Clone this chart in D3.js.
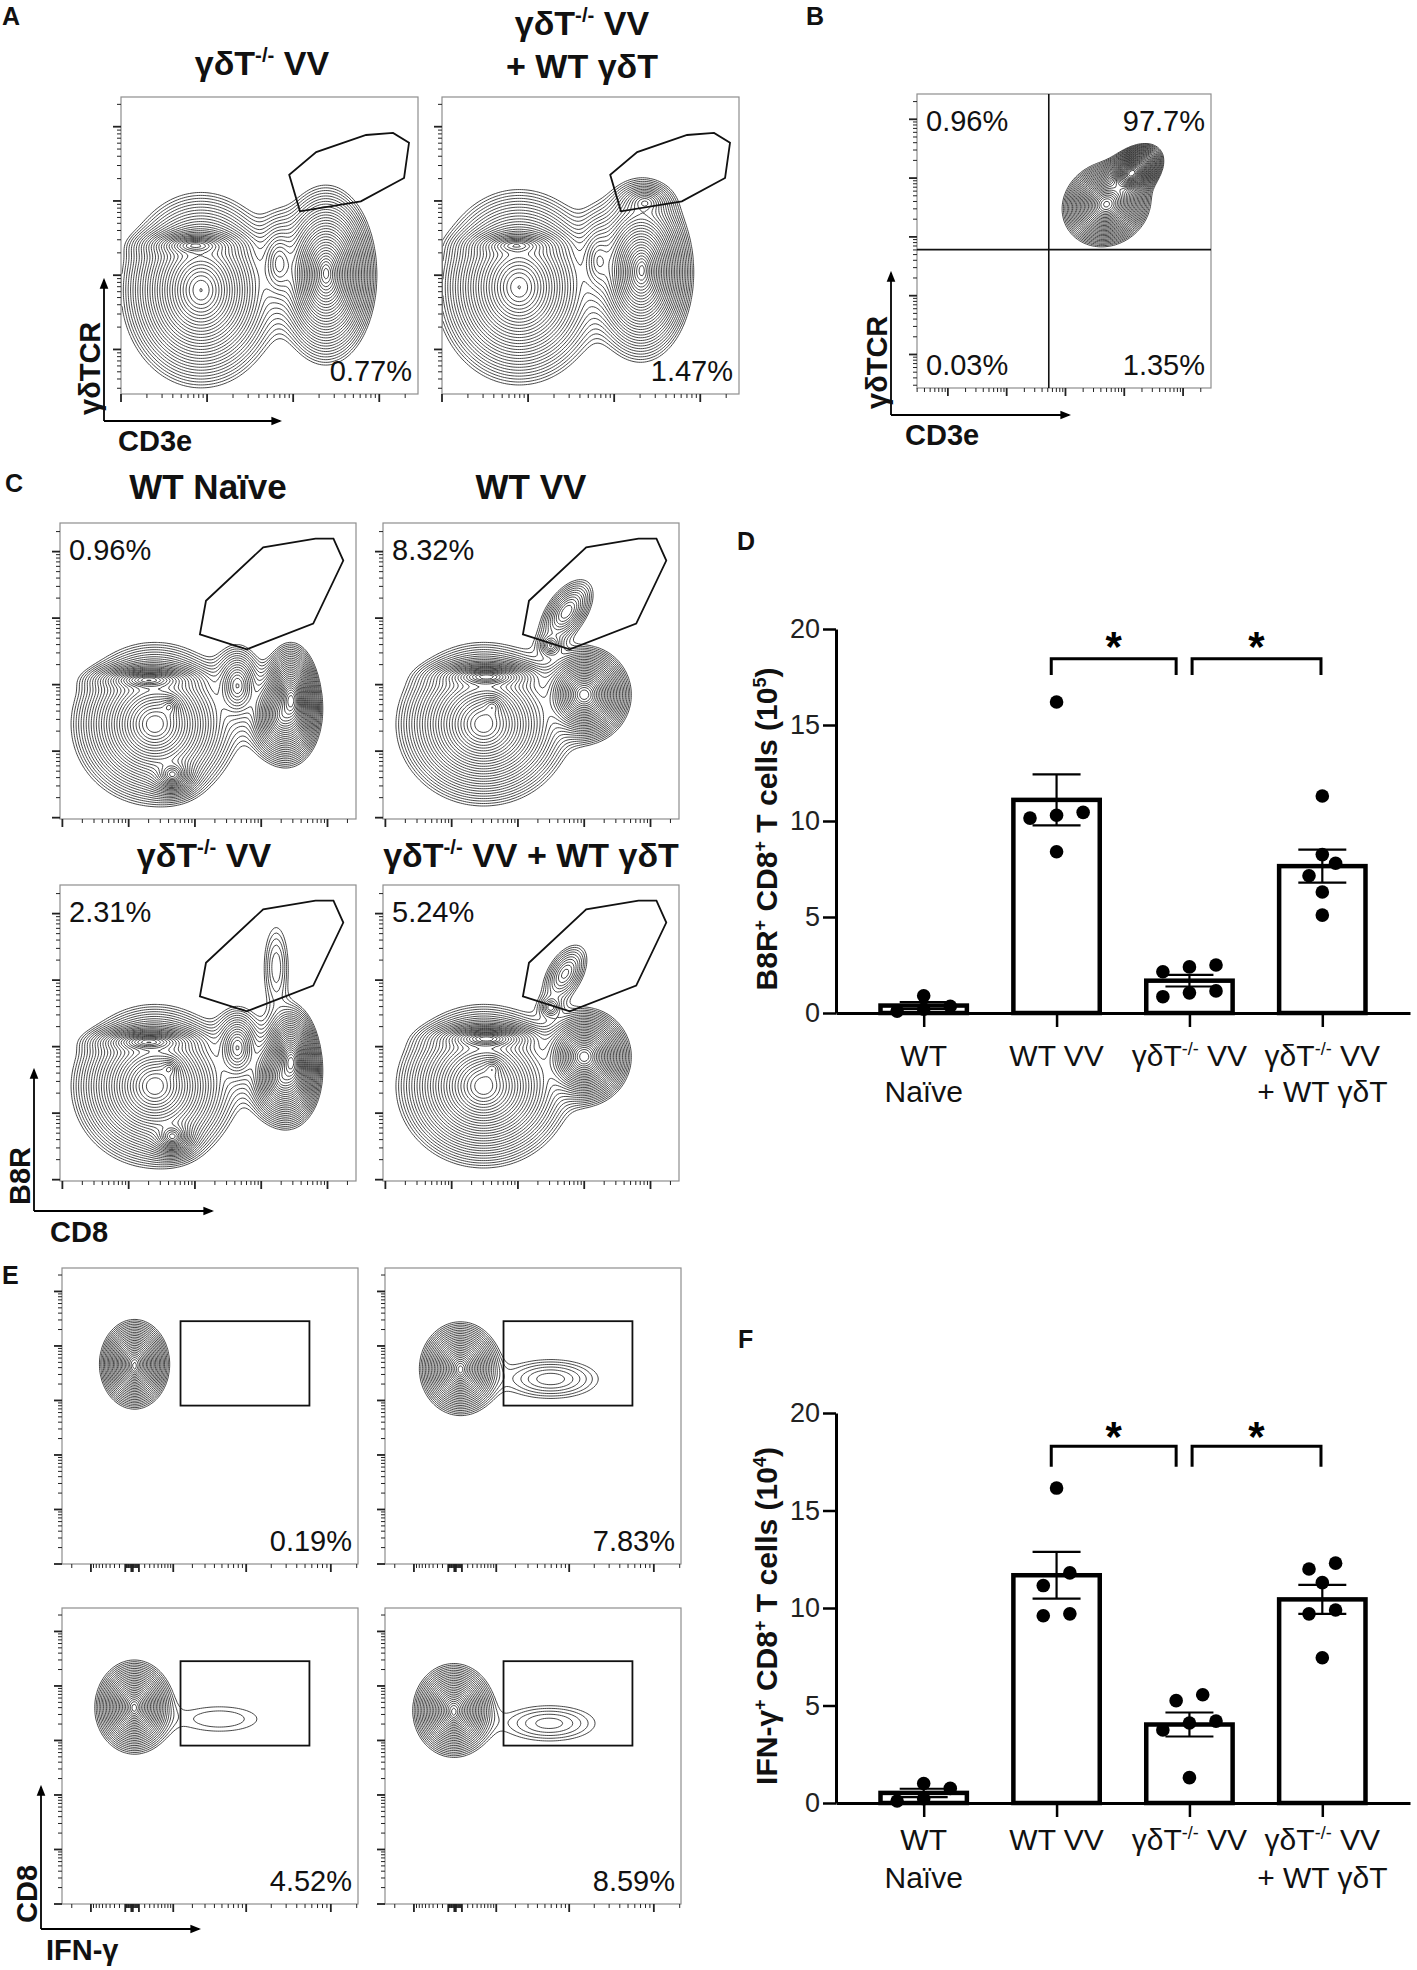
<!DOCTYPE html>
<html>
<head>
<meta charset="utf-8">
<script src="https://cdn.jsdelivr.net/npm/d3@7"></script>
<style>
  body { margin: 0; background: #fff; }
  svg { display: block; font-family: "Liberation Sans", Arial, Helvetica, sans-serif; }
</style>
</head>
<body>
<svg id="fig" width="1417" height="1970"></svg>
<script>
// ---------- data ----------
// bar chart groups (^...^ marks superscript)
const groupLabels = [["WT", "Naïve"], ["WT VV"], ["γδT^-/-^ VV"], ["γδT^-/-^ VV", "+ WT γδT"]]
const barTicks = [0, 5, 10, 15, 20]

// B8R+ CD8+ T cells (10^5), one array per mouse group
const b8rCounts = [
  [0.1, 0.9, 0.35, 0.2],
  [16.2, 10.15, 10.3, 10.45, 8.4],
  [2.5, 2.15, 2.4, 0.85, 1.15, 1.05],
  [11.3, 8.25, 7.8, 7.15, 6.3, 5.1]
]
// IFN-g+ CD8+ T cells (10^4)
const ifngCounts = [
  [0.1, 0.75, 1.0, 0.22],
  [16.15, 11.15, 11.8, 9.6, 9.7],
  [5.55, 5.25, 4.2, 4.1, 3.75, 1.3],
  [12.0, 12.3, 11.3, 9.9, 9.7, 7.45]
]
const sigPairs = [[1, 2], [2, 3]]

// flow populations, in display channels (0-1024): [x, y, spreadX, spreadY, peak, angle]
const popsA1 = [[276, 358, 41, 50, 1.0, 0], [256, 512, 35, 11, 0.4, 0], [707, 410, 26, 46, 1.0, 0], [707, 420, 10, 22, 0.4, 0],
  [545, 450, 22, 45, 0.05, 0]]
const popsA2 = [[266, 368, 43, 50, 1.0, 0], [256, 512, 35, 11, 0.35, 0], [686, 420, 27, 46, 1.0, 0], [690, 430, 10, 22, 0.4, 0],
  [540, 460, 22, 45, 0.05, 0], [700, 660, 25, 18, 0.04, 0]]
const popsB = [[748, 748, 19, 12, 1.0, 40], [660, 640, 27, 24, 0.45, 35]]
const popsC1 = [[328, 328, 43, 42, 1.0, 0], [307, 481, 36, 10, 0.4, 0], [379, 389, 12, 12, 0.4, 0], [389, 154, 18, 15, 0.25, 0],
  [799, 410, 15, 30, 0.9, 0], [768, 358, 23, 31, 0.3, 0], [614, 461, 22, 36, 0.06, 0]]
const popsC2 = [[348, 328, 45, 42, 1.0, 0], [379, 389, 13, 13, 0.4, 0], [358, 492, 36, 10, 0.4, 0], [696, 430, 25, 26, 0.8, 0],
  [635, 717, 39, 21, 0.033, 55], [580, 600, 14, 14, 0.02, 0]]
const popsC3 = [[328, 328, 43, 42, 1.0, 0], [307, 481, 36, 10, 0.4, 0], [379, 389, 12, 12, 0.4, 0], [389, 154, 18, 15, 0.25, 0],
  [799, 410, 15, 30, 0.9, 0], [768, 358, 23, 31, 0.3, 0], [614, 461, 22, 36, 0.06, 0], [748, 740, 24, 80, 0.008, 0]]
const popsC4 = [[348, 328, 45, 42, 1.0, 0], [379, 389, 13, 13, 0.4, 0], [358, 492, 36, 10, 0.4, 0], [696, 430, 25, 26, 0.8, 0],
  [630, 717, 40, 22, 0.02, 60], [580, 600, 14, 14, 0.015, 0]]
const popsE1 = [[251, 691, 18, 23, 1.0, 0], [251, 680, 6, 14, 0.5, 0]]
const popsE2 = [[261, 676, 21, 24, 1.0, 0], [261, 670, 7, 14, 0.5, 0], [573, 640, 76, 31, 0.012, 0]]
const popsE3 = [[250, 682, 20, 24, 1.0, 0], [250, 675, 7, 14, 0.5, 0], [545, 640, 120, 39, 0.0048, 0]]
const popsE4 = [[238, 670, 21, 24, 1.0, 0], [238, 660, 7, 14, 0.5, 0], [568, 625, 86, 33, 0.009, 0]]

// gates, in channels
const gateA = [[617, 630], [580, 756], [673, 834], [845, 893], [938, 900], [993, 866], [976, 745], [827, 664]]
const gateC = [[484, 639], [505, 755], [703, 940], [884, 970], [946, 970], [980, 894], [876, 676], [646, 587]]
const gateE = [[410, 548], [856, 840]]
const quadB = [459, 482]

const pctA = ["0.77%", "1.47%"]
const pctB = ["0.96%", "97.7%", "0.03%", "1.35%"]
const pctC = ["0.96%", "8.32%", "2.31%", "5.24%"]
const pctE = ["0.19%", "7.83%", "4.52%", "8.59%"]

// ---------- helpers ----------
const svg = d3.select("#fig")
const defs = svg.append("defs")
defs.append("marker").attr("id", "arrow")
  .attr("viewBox", "0 0 10 10").attr("refX", 8).attr("refY", 5)
  .attr("markerWidth", 6).attr("markerHeight", 6).attr("orient", "auto")
  .append("path").attr("d", "M0,1L10,5L0,9Z").attr("fill", "#000")

const rich = (text, str, fs) => {
  let raised = false
  str.split("^").forEach((p, i) => {
    if (p === "") return
    const t = text.append("tspan").text(p)
    if (i % 2 === 1) { t.attr("font-size", fs * 0.6).attr("dy", -fs * 0.38); raised = true }
    else if (raised) { t.attr("dy", fs * 0.38); raised = false }
  })
  return text
}

const label = (x, y, str, fs, opts = {}) => {
  const t = svg.append("text").attr("x", x).attr("y", y)
    .attr("font-size", fs).attr("font-weight", opts.bold ? "bold" : "normal")
    .attr("text-anchor", opts.anchor || "start").attr("fill", "#111")
  if (opts.rotate) t.attr("x", 0).attr("y", 0).attr("transform", `translate(${x},${y}) rotate(-90)`)
  return rich(t, str, fs)
}

const logTicks = (scale) => {
  const [a, b] = scale.domain()
  const out = []
  for (let k = Math.floor(Math.log10(a)); k <= Math.ceil(Math.log10(b)); k++) {
    for (let m = 1; m < 10; m++) {
      const v = m * Math.pow(10, k)
      if (v >= a && v <= b) out.push({ v, major: m === 1 })
    }
  }
  return out
}
const symlogTicks = (scale) => {
  const [a, b] = scale.domain()
  const out = [{ v: 0, major: true }]
  for (let k = 1; k <= 6; k++) {
    for (let m = 1; m < 10; m++) {
      const v = m * Math.pow(10, k)
      if (v <= b) out.push({ v, major: m === 1 })
      if (-v >= a) out.push({ v: -v, major: m === 1 })
    }
  }
  return out
}

// smooth peak, exponential tails
const density = (pops, N) => {
  const vals = new Float64Array(N * N)
  const rot = pops.map(p => { const a = p[5] * Math.PI / 180; return [Math.cos(a), Math.sin(a)] })
  for (let j = 0; j < N; j++) {
    const cy = (1 - (j + 0.5) / N) * 1024
    for (let i = 0; i < N; i++) {
      const cx = (i + 0.5) / N * 1024
      let v = 0
      pops.forEach((p, k) => {
        const dx = cx - p[0], dy = cy - p[1]
        const u = (dx * rot[k][0] + dy * rot[k][1]) / p[2]
        const t = (-dx * rot[k][1] + dy * rot[k][0]) / p[3]
        v += p[4] * Math.exp(1 - Math.sqrt(1 + u * u + t * t))
      })
      vals[j * N + i] = v
    }
  }
  return vals
}

let clipId = 0
const flowPlot = (o) => {
  const s = o.s, N = 140
  const cx = d3.scaleLinear().domain([0, 1024]).range([0, s])
  const cy = d3.scaleLinear().domain([0, 1024]).range([s, 0])
  const g = svg.append("g").attr("transform", `translate(${o.x},${o.y})`)
  const id = "clip" + (clipId++)
  defs.append("clipPath").attr("id", id).append("rect").attr("width", s).attr("height", s)

  const vals = density(o.pops, N)
  const mx = d3.max(vals)
  const t0 = 0.003, dl = o.step || 0.2
  const th = []
  for (let t = t0; t < mx * 0.97; t *= Math.exp(dl)) th.push(t)
  const contours = d3.contours().size([N, N]).thresholds(th)(vals)
  const path = d3.geoPath(d3.geoTransform({
    point(x, y) { this.stream.point(x * s / N, y * s / N) }
  }))
  g.append("g").attr("clip-path", `url(#${id})`)
    .selectAll("path").data(contours).join("path")
      .attr("d", path)
      .attr("fill", "none")
      .attr("stroke", "#262626")
      .attr("stroke-width", 0.85)

  // frame
  g.append("rect").attr("width", s).attr("height", s)
    .attr("fill", "none").attr("stroke", "#8e8e8e").attr("stroke-width", 1.2)

  // ticks
  const sx = o.axX.copy().range([0, s])
  const sy = o.axY.copy().range([s, 0])
  const xt = (o.symX ? symlogTicks(sx) : logTicks(sx))
  g.append("g").selectAll("line").data(xt).join("line")
    .attr("x1", d => sx(d.v)).attr("x2", d => sx(d.v))
    .attr("y1", s).attr("y2", d => s + (d.major ? 8 : 4))
    .attr("stroke", "#222").attr("stroke-width", d => d.major ? 1.8 : 1)
  g.append("g").selectAll("line").data(logTicks(sy)).join("line")
    .attr("y1", d => sy(d.v)).attr("y2", d => sy(d.v))
    .attr("x1", 0).attr("x2", d => (d.major ? -8 : -4))
    .attr("stroke", "#222").attr("stroke-width", d => d.major ? 1.8 : 1)

  // gates
  if (o.poly) {
    g.append("path").attr("d", d3.line()(o.poly.map(p => [cx(p[0]), cy(p[1])])) + "Z")
      .attr("fill", "none").attr("stroke", "#111").attr("stroke-width", 1.8)
  }
  if (o.rect) {
    const [a, b] = o.rect
    g.append("rect").attr("x", cx(a[0])).attr("y", cy(b[1]))
      .attr("width", cx(b[0]) - cx(a[0])).attr("height", cy(a[1]) - cy(b[1]))
      .attr("fill", "none").attr("stroke", "#111").attr("stroke-width", 1.8)
  }
  if (o.quad) {
    g.append("line").attr("x1", cx(o.quad[0])).attr("x2", cx(o.quad[0])).attr("y1", 0).attr("y2", s)
      .attr("stroke", "#111").attr("stroke-width", 1.6)
    g.append("line").attr("y1", cy(o.quad[1])).attr("y2", cy(o.quad[1])).attr("x1", 0).attr("x2", s)
      .attr("stroke", "#111").attr("stroke-width", 1.6)
  }

  // percentages
  o.pct.forEach(p => {
    const right = p.pos[1] === "r", bottom = p.pos[0] === "b"
    g.append("text")
      .attr("x", right ? s - 6 : 9)
      .attr("y", bottom ? s - 13 : 37)
      .attr("text-anchor", right ? "end" : "start")
      .attr("font-size", 29).attr("fill", "#111")
      .text(p.t)
  })
}

const arrows = (ox, oy, up, right, yLab, xLab, xLabDx, xLabDy) => {
  svg.append("line").attr("x1", ox).attr("y1", oy).attr("x2", ox).attr("y2", up)
    .attr("stroke", "#000").attr("stroke-width", 1.8).attr("marker-end", "url(#arrow)")
  svg.append("line").attr("x1", ox).attr("y1", oy).attr("x2", right).attr("y2", oy)
    .attr("stroke", "#000").attr("stroke-width", 1.8).attr("marker-end", "url(#arrow)")
  label(ox - 4, oy - 6, yLab, 29, { bold: true, rotate: true })
  label(ox + xLabDx, oy + xLabDy, xLab, 29, { bold: true })
}

// ---------- flow panels ----------
const axA = { x: d3.scaleLog().domain([10, Math.pow(10, 4.45)]), y: d3.scaleLog().domain([Math.pow(10, 0.4), Math.pow(10, 4.4)]) }
const axB = { x: d3.scaleLog().domain([Math.pow(10, 0.475), Math.pow(10, 5.475)]), y: d3.scaleLog().domain([Math.pow(10, 0.43), Math.pow(10, 5.43)]) }
const axC = { x: d3.scaleLog().domain([Math.pow(10, 0.964), Math.pow(10, 5.43)]), y: d3.scaleLog().domain([Math.pow(10, 0.98), Math.pow(10, 5.43)]) }
const axE = { x: d3.scaleSymlog().constant(500).domain([-2745, 207000]), y: d3.scaleLog().domain([1, Math.pow(10, 5.43)]) }

// A
flowPlot({ x: 121, y: 97, s: 297, pops: popsA1, axX: axA.x, axY: axA.y, poly: gateA, pct: [{ t: pctA[0], pos: "br" }] })
flowPlot({ x: 442, y: 97, s: 297, pops: popsA2, axX: axA.x, axY: axA.y, poly: gateA, pct: [{ t: pctA[1], pos: "br" }] })
label(262, 75, "γδT^-/-^ VV", 34, { bold: true, anchor: "middle" })
label(582, 35, "γδT^-/-^ VV", 34, { bold: true, anchor: "middle" })
label(582, 78, "+ WT γδT", 34, { bold: true, anchor: "middle" })
arrows(104, 421, 280, 280, "γδTCR", "CD3e", 14, 30)

// B
flowPlot({ x: 917, y: 94, s: 294, pops: popsB, axX: axB.x, axY: axB.y, quad: quadB, step: 0.17,
  pct: [{ t: pctB[0], pos: "tl" }, { t: pctB[1], pos: "tr" }, { t: pctB[2], pos: "bl" }, { t: pctB[3], pos: "br" }] })
arrows(891, 415, 273, 1069, "γδTCR", "CD3e", 14, 30)

// C
const cPlots = [[60, 523, popsC1], [383, 523, popsC2], [60, 885, popsC3], [383, 885, popsC4]]
cPlots.forEach((c, i) => flowPlot({ x: c[0], y: c[1], s: 296, pops: c[2], axX: axC.x, axY: axC.y, poly: gateC,
  pct: [{ t: pctC[i], pos: "tl" }] }))
label(208, 499, "WT Naïve", 35, { bold: true, anchor: "middle" })
label(531, 499, "WT VV", 35, { bold: true, anchor: "middle" })
label(204, 867, "γδT^-/-^ VV", 34, { bold: true, anchor: "middle" })
label(531, 867, "γδT^-/-^ VV + WT γδT", 34, { bold: true, anchor: "middle" })
arrows(34, 1211, 1070, 212, "B8R", "CD8", 16, 31)

// E
const ePlots = [[62, 1268, popsE1], [385, 1268, popsE2], [62, 1608, popsE3], [385, 1608, popsE4]]
ePlots.forEach((e, i) => flowPlot({ x: e[0], y: e[1], s: 296, pops: e[2], axX: axE.x, axY: axE.y, symX: true, rect: gateE, step: 0.24,
  pct: [{ t: pctE[i], pos: "br" }] }))
arrows(41, 1929, 1787, 199, "CD8", "IFN-γ", 5, 31)

// ---------- bar panels ----------
const swarm = (vals, y, unit) => {
  const idx = d3.range(vals.length).sort((a, b) => vals[a] - vals[b])
  const res = new Array(vals.length)
  let group = []
  const flush = () => { group.forEach((k, i) => { res[k] = (i - (group.length - 1) / 2) * unit }); group = [] }
  idx.forEach(k => {
    if (group.length && Math.abs(y(vals[k]) - y(vals[group[0]])) >= 13.5) flush()
    group.push(k)
  })
  flush()
  return res
}

const barPanel = (o) => {
  const keys = d3.range(groupLabels.length)
  const x = d3.scalePoint().domain(keys).range([836, 1410]).padding(0.66)
  const y = d3.scaleLinear().domain([0, 20]).range([o.bottom, o.top])
  const step = x.step(), bw = step * 0.65
  const g = svg.append("g")

  const stats = o.data.map(v => ({ mean: d3.mean(v), sem: d3.deviation(v) / Math.sqrt(v.length) }))

  // bars
  g.selectAll(".bar").data(stats).join("rect").attr("class", "bar")
    .attr("x", (d, i) => x(i) - bw / 2).attr("width", bw)
    .attr("y", d => y(d.mean)).attr("height", d => y(0) - y(d.mean))
    .attr("fill", "#fff").attr("stroke", "#000").attr("stroke-width", 4.5)

  // axes
  const ya = g.append("g").attr("transform", "translate(836,0)")
    .call(d3.axisLeft(y).tickValues(barTicks).tickSize(13).tickSizeOuter(0).tickPadding(3))
  ya.select(".domain").attr("stroke-width", 3)
  ya.selectAll(".tick line").attr("stroke-width", 2.5)
  ya.selectAll(".tick text").attr("font-size", 27).attr("font-family", "Liberation Sans, Arial, sans-serif").attr("fill", "#222")
  const xa = g.append("g").attr("transform", `translate(0,${y(0)})`)
    .call(d3.axisBottom(x).tickSize(14).tickSizeOuter(0).tickFormat(""))
  xa.select(".domain").attr("stroke-width", 3)
  xa.selectAll(".tick line").attr("stroke-width", 2.5)

  // error bars (mean +/- SEM)
  stats.forEach((d, i) => {
    const cx = x(i), hi = y(d.mean + d.sem), lo = y(d.mean - d.sem)
    g.append("line").attr("x1", cx).attr("x2", cx).attr("y1", hi).attr("y2", lo).attr("stroke", "#000").attr("stroke-width", 2.2)
    ;[hi, lo].forEach(yy => g.append("line").attr("x1", cx - 24).attr("x2", cx + 24).attr("y1", yy).attr("y2", yy)
      .attr("stroke", "#000").attr("stroke-width", 2.2))
  })

  // points
  o.data.forEach((v, i) => {
    const off = swarm(v, y, step * 0.2)
    g.append("g").selectAll("circle").data(v).join("circle")
      .attr("cx", (d, k) => x(i) + off[k]).attr("cy", d => y(d)).attr("r", 6.8).attr("fill", "#000")
  })

  // significance brackets
  sigPairs.forEach(([a, b], k) => {
    const x1 = x(a) + (k > 0 ? 0.02 : -0.04) * step
    const x2 = x(b) - (k < sigPairs.length - 1 ? 0.1 : 0.01) * step
    const yb = y(o.bracket[0]), yl = y(o.bracket[1])
    g.append("path").attr("d", `M${x1},${yl}V${yb}H${x2}V${yl}`)
      .attr("fill", "none").attr("stroke", "#000").attr("stroke-width", 3)
    g.append("text").attr("x", (x1 + x2) / 2).attr("y", y(o.bracket[2]) + 22)
      .attr("text-anchor", "middle").attr("font-size", 42).attr("font-weight", "bold").text("*")
  })

  // category labels
  groupLabels.forEach((lines, i) => {
    lines.forEach((ln, j) => label(x(i), o.labelY[j], ln, 30, { anchor: "middle" }))
  })

  // y title
  label(777, (o.top + o.bottom) / 2 + 8, o.title, 30, { bold: true, anchor: "middle", rotate: true })
}

barPanel({ data: b8rCounts, top: 629, bottom: 1013, bracket: [18.45, 17.6, 19.5], labelY: [1066, 1102],
  title: "B8R^+^ CD8^+^ T cells (10^5^)" })
barPanel({ data: ifngCounts, top: 1413, bottom: 1803, bracket: [18.3, 17.25, 19.2], labelY: [1850, 1888],
  title: "IFN-γ^+^ CD8^+^ T cells (10^4^)" })

// panel letters
const panelLetters = ["A", "B", "C", "D", "E", "F"]
const letterPos = [[2, 25], [806, 25], [5, 492], [737, 550], [2, 1284], [738, 1348]]
panelLetters.forEach((l, i) => label(letterPos[i][0], letterPos[i][1], l, 25, { bold: true }))
</script>
</body>
</html>
